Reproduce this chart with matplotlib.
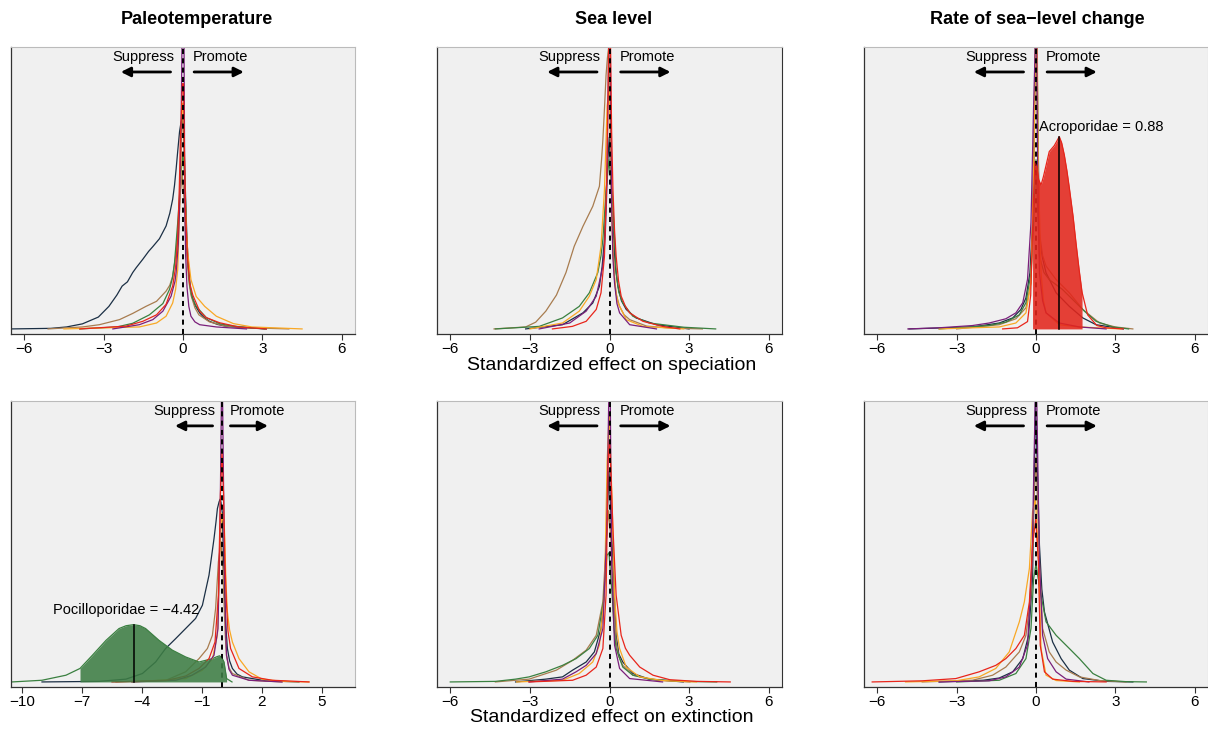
import numpy as np
import matplotlib
matplotlib.use("Agg")
import matplotlib.pyplot as plt

plt.rcParams['font.family'] = ['Liberation Sans', 'DejaVu Sans']

# colours of the six coral families
col_navy = "#1b2f45"
col_brown = "#a87c4f"
col_green = "#3a8040"
col_purple = "#7a1f7a"
col_orange = "#f9a825"
col_red = "#e8251b"

col_titles = ["Paleotemperature", "Sea level", "Rate of sea\u2212level change"]
row_labels = ["Standardized effect on speciation", "Standardized effect on extinction"]

# ---- paleotemperature, speciation ----
ts_navy_x = [-6.5, -5.0, -4.4, -3.8, -3.2, -2.8, -2.5, -2.3, -2.1, -1.9, -1.77, -1.52, -1.3, -1.14, -0.89, -0.64, -0.5, -0.39, -0.32, -0.26, -0.2, -0.13, -0.08, -0.03, 0.03, 0.07, 0.11, 0.15, 0.22, 0.3, 0.45, 0.63, 0.8, 1.0, 1.3, 1.6, 2.2, 3.15]
ts_navy_y = [0, 0.002, 0.007, 0.018, 0.042, 0.08, 0.12, 0.152, 0.167, 0.2, 0.217, 0.247, 0.275, 0.292, 0.32, 0.365, 0.41, 0.46, 0.51, 0.567, 0.63, 0.70, 0.73, 0.75, 0.68, 0.555, 0.43, 0.318, 0.2, 0.128, 0.085, 0.057, 0.04, 0.027, 0.016, 0.01, 0.005, 0]
ts_brown_x = [-5.1, -3.8, -3.16, -2.4, -1.9, -1.4, -1.0, -0.64, -0.5, -0.39, -0.26, -0.18, -0.13, -0.03, 0.05, 0.1, 0.15, 0.22, 0.3, 0.45, 0.6, 1.0, 1.6, 2.5, 4.0]
ts_brown_y = [0, 0.007, 0.015, 0.033, 0.055, 0.08, 0.098, 0.134, 0.155, 0.187, 0.27, 0.37, 0.45, 0.55, 0.45, 0.33, 0.25, 0.17, 0.12, 0.075, 0.05, 0.025, 0.01, 0.004, 0]
ts_green_x = [-3.9, -2.5, -1.9, -1.27, -0.76, -0.51, -0.4, -0.32, -0.2, -0.14, -0.08, 0, 0.05, 0.08, 0.12, 0.18, 0.25, 0.35, 0.5, 0.88, 1.4, 1.9, 3.1]
ts_green_y = [0, 0.007, 0.02, 0.05, 0.09, 0.14, 0.18, 0.235, 0.377, 0.46, 0.55, 0.62, 0.56, 0.5, 0.36, 0.24, 0.16, 0.11, 0.08, 0.04, 0.018, 0.01, 0]
ts_purple_x = [-2.65, -1.65, -1.14, -0.76, -0.45, -0.3, -0.26, -0.18, -0.13, -0.08, -0.04, 0.0, 0.04, 0.07, 0.1, 0.15, 0.22, 0.3, 0.45, 0.63, 1.26, 2.4]
ts_purple_y = [0, 0.015, 0.033, 0.063, 0.116, 0.17, 0.2, 0.3, 0.43, 0.65, 1.0, 1.3, 1.0, 0.43, 0.26, 0.15, 0.08, 0.045, 0.025, 0.015, 0.007, 0]
ts_orange_x = [-4.5, -1.65, -1.0, -0.64, -0.39, -0.28, -0.2, -0.1, -0.02, 0.03, 0.07, 0.12, 0.18, 0.3, 0.5, 0.82, 1.26, 1.9, 2.6, 4.5]
ts_orange_y = [0, 0.007, 0.021, 0.045, 0.092, 0.14, 0.21, 0.5, 0.8, 0.8, 0.5, 0.36, 0.27, 0.175, 0.115, 0.08, 0.045, 0.019, 0.007, 0]
ts_red_x = [-3.9, -2.15, -1.52, -1.0, -0.64, -0.39, -0.28, -0.2, -0.14, -0.1, -0.02, 0.02, 0.06, 0.1, 0.18, 0.26, 0.37, 0.63, 0.88, 1.38, 2.1, 3.15]
ts_red_y = [0, 0.01, 0.027, 0.05, 0.087, 0.152, 0.22, 0.318, 0.5, 0.67, 0.87, 0.87, 0.6, 0.4, 0.24, 0.16, 0.12, 0.063, 0.04, 0.022, 0.007, 0]

# ---- sea level, speciation ----
ss_navy_x = [-3.16, -1.77, -1.0, -0.63, -0.38, -0.28, -0.19, -0.09, -0.01, 0.05, 0.13, 0.22, 0.32, 0.45, 0.63, 1.0, 1.77, 3.0]
ss_navy_y = [0, 0.015, 0.057, 0.092, 0.151, 0.22, 0.317, 0.553, 0.68, 0.55, 0.365, 0.22, 0.15, 0.1, 0.069, 0.039, 0.015, 0]
ss_brown_x = [-4.35, -3.16, -2.78, -2.4, -2.0, -1.64, -1.33, -1.0, -0.63, -0.38, -0.3, -0.25, -0.19, -0.13, -0.08, -0.03, 0.03, 0.06, 0.1, 0.14, 0.19, 0.26, 0.38, 0.55, 0.76, 1.4, 2.3, 3.5]
ss_brown_y = [0, 0.007, 0.024, 0.063, 0.12, 0.2, 0.293, 0.364, 0.435, 0.506, 0.6, 0.67, 0.78, 0.9, 0.96, 1.0, 0.8, 0.6, 0.43, 0.28, 0.175, 0.12, 0.08, 0.05, 0.033, 0.01, 0.003, 0]
ss_green_x = [-4.3, -2.65, -1.77, -1.14, -0.76, -0.44, -0.32, -0.25, -0.13, -0.02, 0.06, 0.13, 0.25, 0.35, 0.5, 0.88, 1.5, 2.8, 4.0]
ss_green_y = [0, 0.009, 0.039, 0.08, 0.128, 0.2, 0.26, 0.317, 0.49, 0.6, 0.52, 0.435, 0.2, 0.13, 0.092, 0.045, 0.021, 0.006, 0]
ss_purple_x = [-2.65, -1.5, -0.88, -0.5, -0.25, -0.16, -0.1, -0.03, 0.0, 0.03, 0.08, 0.13, 0.19, 0.28, 0.38, 0.76, 1.77]
ss_purple_y = [0, 0.021, 0.063, 0.116, 0.222, 0.33, 0.494, 1.0, 1.3, 1.0, 0.435, 0.25, 0.163, 0.09, 0.057, 0.015, 0]
ss_orange_x = [-3.0, -1.77, -1.14, -0.76, -0.5, -0.32, -0.19, -0.09, -0.01, 0.06, 0.11, 0.16, 0.23, 0.32, 0.63, 1.26, 2.8]
ss_orange_y = [0, 0.021, 0.063, 0.116, 0.175, 0.293, 0.494, 0.79, 0.85, 0.553, 0.33, 0.222, 0.14, 0.092, 0.033, 0.009, 0]
ss_red_x = [-2.15, -1.4, -0.88, -0.5, -0.32, -0.19, -0.1, -0.03, 0.02, 0.08, 0.13, 0.19, 0.25, 0.34, 0.44, 0.6, 0.76, 1.26, 2.0, 2.65]
ss_red_y = [0, 0.009, 0.027, 0.069, 0.128, 0.258, 0.553, 1.0, 1.15, 0.7, 0.494, 0.35, 0.258, 0.17, 0.116, 0.08, 0.057, 0.027, 0.009, 0]

# ---- rate of sea-level change, speciation ----
rs_navy_x = [-4.8, -2.4, -1.39, -0.88, -0.57, -0.38, -0.23, -0.13, -0.04, 0.0, 0.05, 0.13, 0.25, 0.38, 0.76, 1.26, 1.77, 2.27, 3.3]
rs_navy_y = [0, 0.007, 0.021, 0.039, 0.069, 0.11, 0.199, 0.377, 0.9, 1.15, 0.9, 0.318, 0.25, 0.199, 0.128, 0.08, 0.039, 0.015, 0]
rs_brown_x = [-3.0, -1.39, -0.76, -0.38, -0.19, -0.09, 0.0, 0.05, 0.13, 0.25, 0.38, 0.76, 1.26, 1.77, 2.4, 3.0, 3.66]
rs_brown_y = [0, 0.015, 0.036, 0.075, 0.164, 0.436, 1.15, 0.7, 0.341, 0.26, 0.223, 0.175, 0.128, 0.069, 0.021, 0.007, 0]
rs_green_x = [-3.66, -1.77, -1.14, -0.63, -0.38, -0.19, -0.09, 0.0, 0.05, 0.13, 0.3, 0.5, 1.0, 1.39, 1.83, 2.27, 2.9, 3.5]
rs_green_y = [0, 0.012, 0.024, 0.05, 0.093, 0.199, 0.377, 0.6, 0.45, 0.258, 0.2, 0.175, 0.14, 0.104, 0.063, 0.027, 0.007, 0]
rs_purple_x = [-4.84, -3.66, -2.4, -1.77, -1.14, -0.76, -0.5, -0.32, -0.19, -0.09, -0.03, 0.0, 0.03, 0.06, 0.13, 0.25, 0.38, 0.88, 1.64, 2.65]
rs_purple_y = [0, 0.004, 0.012, 0.021, 0.036, 0.057, 0.093, 0.176, 0.377, 0.792, 1.0, 1.4, 1.0, 0.6, 0.199, 0.1, 0.057, 0.021, 0.007, 0]
rs_orange_x = [-3.66, -1.39, -0.76, -0.38, -0.19, -0.09, -0.02, 0.03, 0.09, 0.19, 0.28, 0.38, 0.88, 1.64, 3.2]
rs_orange_y = [0, 0.007, 0.021, 0.057, 0.164, 0.555, 1.0, 1.2, 0.555, 0.199, 0.1, 0.057, 0.015, 0.007, 0]
rs_red_x = [-1.26, -0.7, -0.32, -0.2, -0.13, -0.1, -0.04, 0.02, 0.1, 0.19, 0.28, 0.38, 0.5, 0.69, 0.88, 0.97, 1.07, 1.17, 1.26, 1.4, 1.52, 1.63, 1.74, 1.95, 2.3, 2.65, 3.3]
rs_red_y = [0, 0.004, 0.026, 0.12, 0.35, 0.45, 0.593, 0.58, 0.53, 0.51, 0.54, 0.58, 0.629, 0.65, 0.682, 0.66, 0.617, 0.56, 0.5, 0.4, 0.298, 0.21, 0.13, 0.05, 0.012, 0.004, 0]

# ---- paleotemperature, extinction ----
te_navy_x = [-9.0, -6.15, -4.8, -3.98, -3.32, -2.82, -2.32, -1.82, -1.32, -0.98, -0.65, -0.4, -0.3, -0.23, -0.15, -0.1, -0.05, 0.02, 0.07, 0.13, 0.2, 0.27, 0.38, 0.52, 0.75, 1.02, 2.18, 3.85]
te_navy_y = [0, 0.002, 0.01, 0.03, 0.071, 0.119, 0.154, 0.19, 0.226, 0.273, 0.38, 0.51, 0.57, 0.617, 0.64, 0.65, 0.64, 0.6, 0.45, 0.309, 0.19, 0.119, 0.075, 0.048, 0.028, 0.018, 0.004, 0]
te_brown_x = [-5.3, -2.8, -1.82, -1.15, -0.73, -0.48, -0.32, -0.18, -0.05, 0.05, 0.1, 0.16, 0.22, 0.35, 0.52, 1.35, 3.0]
te_brown_y = [0, 0.006, 0.036, 0.083, 0.119, 0.166, 0.261, 0.428, 0.5, 0.4, 0.285, 0.17, 0.095, 0.05, 0.03, 0.006, 0]
te_green_x = [-10.5, -9.0, -7.8, -7.1, -6.48, -5.8, -5.15, -4.8, -4.42, -4.1, -3.82, -3.15, -2.48, -1.82, -1.15, -0.48, -0.25, -0.12, 0.0, 0.1, 0.23, 0.5]
te_green_y = [0, 0.006, 0.024, 0.048, 0.095, 0.148, 0.19, 0.2, 0.204, 0.2, 0.19, 0.148, 0.113, 0.089, 0.071, 0.083, 0.09, 0.093, 0.085, 0.071, 0.012, 0]
te_purple_x = [-4.5, -2.3, -1.5, -0.82, -0.4, -0.2, -0.1, -0.03, 0.0, 0.03, 0.12, 0.18, 0.23, 0.35, 0.52, 1.35, 3.0]
te_purple_y = [0, 0.006, 0.024, 0.053, 0.095, 0.19, 0.546, 1.0, 1.3, 1.0, 0.428, 0.2, 0.095, 0.045, 0.024, 0.006, 0]
te_orange_x = [-4.5, -1.82, -0.98, -0.48, -0.23, -0.12, -0.02, 0.12, 0.2, 0.27, 0.38, 0.52, 0.85, 1.35, 2.0, 3.0, 4.35]
te_orange_y = [0, 0.012, 0.042, 0.083, 0.166, 0.428, 0.6, 0.546, 0.35, 0.249, 0.185, 0.142, 0.083, 0.036, 0.01, 0.002, 0]
te_red_x = [-5.5, -2.8, -1.82, -1.15, -0.65, -0.35, -0.18, -0.08, 0.0, 0.08, 0.15, 0.22, 0.3, 0.43, 0.85, 1.52, 2.52, 4.35]
te_red_y = [0, 0.005, 0.021, 0.048, 0.083, 0.142, 0.309, 0.665, 0.82, 0.665, 0.42, 0.285, 0.18, 0.119, 0.048, 0.018, 0.006, 0]

# ---- sea level, extinction ----
se_navy_x = [-3.54, -2.4, -1.77, -1.39, -0.88, -0.57, -0.32, -0.22, -0.15, -0.02, 0.06, 0.13, 0.25, 0.35, 0.5, 0.88, 1.5, 2.78]
se_navy_y = [0, 0.01, 0.018, 0.042, 0.071, 0.107, 0.19, 0.29, 0.428, 0.75, 0.58, 0.428, 0.166, 0.1, 0.071, 0.03, 0.01, 0]
se_brown_x = [-4.3, -3.03, -2.0, -1.39, -0.88, -0.5, -0.25, -0.13, -0.03, 0.06, 0.13, 0.25, 0.35, 0.5, 0.88, 1.77, 3.03]
se_brown_y = [0, 0.01, 0.042, 0.077, 0.113, 0.166, 0.285, 0.487, 0.61, 0.5, 0.333, 0.143, 0.09, 0.059, 0.024, 0.006, 0]
se_green_x = [-6.0, -4.3, -3.54, -3.03, -2.4, -1.77, -1.26, -0.76, -0.44, -0.23, -0.1, -0.02, 0.1, 0.17, 0.25, 0.5, 0.88, 1.5, 2.78, 4.04]
se_green_y = [0, 0.002, 0.01, 0.018, 0.036, 0.059, 0.083, 0.119, 0.166, 0.285, 0.45, 0.46, 0.309, 0.19, 0.119, 0.053, 0.024, 0.01, 0.002, 0]
se_purple_x = [-3.03, -1.77, -1.26, -0.88, -0.5, -0.25, -0.1, -0.03, 0.0, 0.03, 0.08, 0.19, 0.38, 0.76, 2.0]
se_purple_y = [0, 0.01, 0.036, 0.059, 0.101, 0.19, 0.546, 1.0, 1.3, 1.0, 0.428, 0.131, 0.048, 0.012, 0]
se_orange_x = [-3.5, -1.77, -1.14, -0.63, -0.38, -0.19, -0.09, -0.01, 0.09, 0.19, 0.28, 0.38, 0.63, 1.14, 2.0, 3.28]
se_orange_y = [0, 0.006, 0.03, 0.071, 0.131, 0.309, 0.784, 0.96, 0.665, 0.309, 0.18, 0.119, 0.053, 0.018, 0.005, 0]
se_red_x = [-3.03, -1.39, -0.88, -0.5, -0.25, -0.13, -0.05, 0.0, 0.05, 0.13, 0.25, 0.44, 0.6, 0.76, 1.14, 1.64, 2.27, 3.28, 4.55]
se_red_y = [0, 0.006, 0.024, 0.053, 0.119, 0.309, 0.784, 0.86, 0.75, 0.546, 0.309, 0.166, 0.12, 0.095, 0.053, 0.024, 0.008, 0.002, 0]

# ---- rate of sea-level change, extinction ----
re_navy_x = [-3.66, -2.0, -1.39, -0.88, -0.5, -0.28, -0.13, -0.02, 0.13, 0.22, 0.32, 0.63, 0.95, 1.26, 1.77, 2.65, 3.66]
re_navy_y = [0, 0.006, 0.014, 0.036, 0.083, 0.166, 0.368, 1.0, 0.487, 0.33, 0.249, 0.142, 0.083, 0.042, 0.012, 0.002, 0]
re_brown_x = [-4.3, -2.4, -1.64, -1.14, -0.63, -0.38, -0.19, -0.09, 0.0, 0.13, 0.25, 0.5, 0.76, 1.14, 1.64, 2.4, 3.4]
re_brown_y = [0, 0.006, 0.024, 0.053, 0.107, 0.166, 0.309, 0.606, 0.8, 0.428, 0.19, 0.107, 0.071, 0.042, 0.018, 0.005, 0]
re_green_x = [-3.0, -1.39, -0.76, -0.38, -0.19, -0.09, 0.0, 0.08, 0.19, 0.38, 0.76, 1.26, 1.64, 2.15, 2.65, 3.4, 4.17]
re_green_y = [0, 0.006, 0.03, 0.083, 0.19, 0.368, 0.42, 0.37, 0.309, 0.214, 0.166, 0.119, 0.083, 0.03, 0.006, 0.001, 0]
re_purple_x = [-3.66, -1.77, -1.14, -0.63, -0.32, -0.15, -0.03, 0.0, 0.03, 0.13, 0.25, 0.44, 0.76, 1.14, 2.0]
re_purple_y = [0, 0.004, 0.018, 0.053, 0.131, 0.428, 1.0, 1.3, 1.0, 0.428, 0.166, 0.083, 0.036, 0.01, 0]
re_orange_x = [-4.93, -3.03, -2.15, -1.52, -1.01, -0.63, -0.44, -0.25, -0.13, -0.02, 0.1, 0.19, 0.38, 0.76, 1.64]
re_orange_y = [0, 0.004, 0.018, 0.048, 0.107, 0.214, 0.285, 0.404, 0.606, 0.65, 0.428, 0.119, 0.024, 0.005, 0]
re_red_x = [-6.19, -4.3, -3.03, -2.15, -1.52, -1.14, -0.76, -0.44, -0.25, -0.13, -0.01, 0.09, 0.16, 0.32, 0.63, 1.39, 2.65]
re_red_y = [0, 0.004, 0.012, 0.036, 0.059, 0.083, 0.119, 0.166, 0.285, 0.487, 0.58, 0.428, 0.131, 0.036, 0.01, 0.002, 0]

# highlighted families (HPD interval and median)
acro_lo, acro_hi, acro_med = -0.13, 1.74, 0.88
poci_lo, poci_hi, poci_med = -7.1, 0.23, -4.42

ticks_std = [-6, -3, 0, 3, 6]
ticks_temp_ext = [-10, -7, -4, -1, 2, 5]


def curves(p):
    g = globals()
    out = []
    for name, c in [("navy", col_navy), ("brown", col_brown), ("green", col_green),
                    ("orange", col_orange), ("purple", col_purple), ("red", col_red)]:
        out.append((np.array(g[p + "_" + name + "_x"]), np.array(g[p + "_" + name + "_y"]), c, name))
    return out


fig = plt.figure(figsize=(12.08, 7.31), dpi=100)
W, H = 1208, 731
col_px = [(11, 355), (437, 782), (864, 1208)]
row_px = [(47, 334), (401, 687)]
title_px = [197, 614, 1037]

panels = [["ts", "ss", "rs"], ["te", "se", "re"]]

for r in range(2):
    for c in range(3):
        l, rr = col_px[c]
        t, b = row_px[r]
        ax = fig.add_axes([l / W, 1 - b / H, (rr - l) / W, (b - t) / H])
        ax.set_facecolor("#f0f0f0")
        p = panels[r][c]
        fill_info = None
        if p == "rs":
            fill_info = ("red", acro_lo, acro_hi, acro_med, "#e3261c", "Acroporidae = 0.88", 2.46, 0.716)
        if p == "te":
            fill_info = ("green", poci_lo, poci_hi, poci_med, "#3d7d44", "Pocilloporidae = \u22124.42", -4.78, 0.255)

        for x, y, col, name in curves(p):
            ax.plot(x, y, color=col, lw=0.9, zorder=2)

        ax.axvline(0, color="black", lw=1.4, ls=(0, (2.6, 2.2)), zorder=3)

        if fill_info is not None:
            name, lo, hi, med, fc, lab, lx, ly = fill_info
            x = np.array(globals()[p + "_" + name + "_x"])
            y = np.array(globals()[p + "_" + name + "_y"])
            m = (x >= lo) & (x <= hi)
            ax.fill_between(x[m], 0, y[m], color=fc, alpha=0.88, lw=0, zorder=4)
            ymed = y[np.argmin(np.abs(x - med))]
            ax.plot([med, med], [0, ymed], color="black", lw=1.1, zorder=5)
            ax.text(lx, ly, lab, ha="center", va="center", fontsize=10.5, zorder=6)

        if p == "te":
            ax.set_xlim(-10.55, 6.65)
            ax.set_xticks(ticks_temp_ext)
        else:
            ax.set_xlim(-6.5, 6.5)
            ax.set_xticks(ticks_std)
        ax.set_ylim(-0.018, 1.0)
        ax.set_yticks([])

        # direction arrows
        tr = ax.get_xaxis_transform()
        ax.annotate("", xy=(-2.35, 0.913), xytext=(-0.47, 0.913), xycoords=tr,
                    arrowprops=dict(arrowstyle="-|>", lw=2, color="black", mutation_scale=14,
                                    shrinkA=0, shrinkB=0), zorder=7)
        ax.annotate("", xy=(2.3, 0.913), xytext=(0.42, 0.913), xycoords=tr,
                    arrowprops=dict(arrowstyle="-|>", lw=2, color="black", mutation_scale=14,
                                    shrinkA=0, shrinkB=0), zorder=7)
        ax.text(-0.33, 0.965, "Suppress", transform=tr, ha="right", va="center", fontsize=10.5)
        ax.text(0.38, 0.965, "Promote", transform=tr, ha="left", va="center", fontsize=10.5)

        for s in ["top", "right"]:
            ax.spines[s].set_color("#bbbbbb")
            ax.spines[s].set_linewidth(0.8)
        if c == 1:
            ax.spines["right"].set_color("#333333")
        for s in ["left", "bottom"]:
            ax.spines[s].set_color("#333333")
            ax.spines[s].set_linewidth(0.9)
        ax.tick_params(axis="x", length=4, width=0.8, pad=2, labelsize=11, color="#333333")

        if r == 0:
            fig.text(title_px[c] / W, 1 - 20 / H, col_titles[c], ha="center", va="center",
                     fontsize=13, fontweight="bold")

fig.text(612 / W, 1 - 366 / H, row_labels[0], ha="center", va="center", fontsize=14)
fig.text(612 / W, 1 - 718 / H, row_labels[1], ha="center", va="center", fontsize=14)

fig.savefig("out.png", dpi=100)
